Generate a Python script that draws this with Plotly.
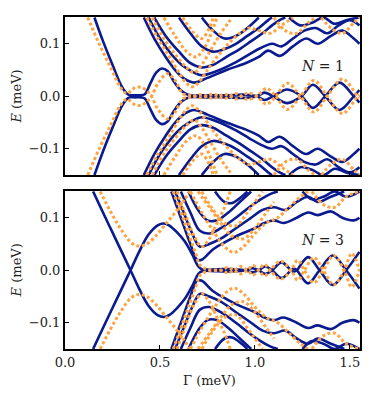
import plotly.graph_objects as go
from plotly.subplots import make_subplots

# ---------------- data (positive-energy branches; spectrum is particle-hole symmetric) ----------
# Top panel, N = 1 : blue solid
n1_blue_zero_G = [0.155, 0.20, 0.25, 0.30, 0.33, 0.345, 0.37, 0.40, 0.42, 0.45, 0.48, 0.51, 0.54, 0.57, 0.60, 0.63, 0.66,
                  0.75, 0.85, 0.95, 1.01, 1.05, 1.095, 1.17, 1.245, 1.305, 1.37, 1.445, 1.52, 1.55]
n1_blue_zero_E = [0.15, 0.105, 0.06, 0.018, 0.004, 0.002, 0.002, 0.002, 0.004, 0.025, 0.045, 0.053, 0.048, 0.03, 0.015, 0.006, 0.002,
                  0.002, 0.002, 0.003, 0.0, -0.007, 0.0, 0.013, 0.0, -0.022, 0.0, 0.026, 0.0, -0.012]
n1_blue_b1_G = [0.415, 0.47, 0.53, 0.58, 0.63, 0.68, 0.75, 0.85, 0.95, 1.02, 1.07, 1.13, 1.20, 1.27, 1.33, 1.40, 1.46, 1.52, 1.55]
n1_blue_b1_E = [0.15, 0.11, 0.075, 0.05, 0.033, 0.026, 0.035, 0.05, 0.063, 0.075, 0.087, 0.077, 0.095, 0.11, 0.10, 0.115, 0.125, 0.11, 0.10]
n1_blue_b2_G = [0.44, 0.50, 0.56, 0.62, 0.68, 0.72, 0.80, 0.90, 0.97, 1.03, 1.09, 1.14, 1.20, 1.26, 1.32, 1.38, 1.44, 1.50, 1.55]
n1_blue_b2_E = [0.15, 0.11, 0.08, 0.058, 0.045, 0.04, 0.048, 0.065, 0.08, 0.092, 0.10, 0.095, 0.11, 0.125, 0.13, 0.12, 0.135, 0.145, 0.135]
n1_blue_b3_G = [0.47, 0.53, 0.60, 0.66, 0.72, 0.78, 0.85, 0.92, 0.98, 1.04, 1.09, 1.13, 1.16]
n1_blue_b3_E = [0.15, 0.115, 0.085, 0.063, 0.055, 0.06, 0.075, 0.09, 0.105, 0.12, 0.135, 0.145, 0.15]
n1_blue_b4_G = [0.60, 0.66, 0.72, 0.78, 0.84, 0.90, 0.96, 1.02, 1.07, 1.09]
n1_blue_b4_E = [0.15, 0.12, 0.095, 0.085, 0.09, 0.10, 0.115, 0.13, 0.145, 0.15]
n1_blue_b5_G = [0.72, 0.78, 0.84, 0.90, 0.96, 1.02]
n1_blue_b5_E = [0.15, 0.125, 0.11, 0.115, 0.13, 0.15]
n1_blue_b6_G = [1.18, 1.24, 1.30, 1.36, 1.42, 1.48, 1.55]
n1_blue_b6_E = [0.15, 0.135, 0.14, 0.15, 0.138, 0.145, 0.15]

# Top panel, N = 1 : orange dotted
n1_orange_zero_G = [0.12, 0.18, 0.24, 0.29, 0.32, 0.335, 0.35, 0.375, 0.40, 0.43, 0.455, 0.49, 0.54, 0.58, 0.62, 0.66,
                    0.72, 0.78, 0.84, 0.90, 0.96, 1.01, 1.06, 1.11, 1.17, 1.24, 1.31, 1.38, 1.46, 1.54, 1.55]
n1_orange_zero_E = [0.15, 0.10, 0.055, 0.018, 0.006, 0.006, 0.012, 0.017, 0.017, 0.011, 0.0, -0.025, -0.043, -0.03, -0.005, -0.002,
                    0.003, -0.004, 0.004, -0.005, 0.006, 0.0, -0.015, 0.0, 0.025, 0.0, -0.03, 0.0, 0.033, 0.0, -0.003]
n1_orange_b1_G = [0.43, 0.49, 0.55, 0.60, 0.64, 0.67, 0.70, 0.75, 0.80, 0.86, 0.92, 0.97, 1.02, 1.08, 1.14, 1.20]
n1_orange_b1_E = [0.15, 0.11, 0.075, 0.045, 0.025, 0.018, 0.025, 0.05, 0.075, 0.10, 0.12, 0.13, 0.125, 0.12, 0.135, 0.15]
n1_orange_b2_G = [0.46, 0.52, 0.58, 0.64, 0.68, 0.72, 0.77, 0.82, 0.86, 0.88]
n1_orange_b2_E = [0.15, 0.11, 0.08, 0.055, 0.045, 0.06, 0.09, 0.12, 0.14, 0.15]
n1_orange_b3_G = [0.52, 0.58, 0.64, 0.69, 0.73, 0.77, 0.80]
n1_orange_b3_E = [0.15, 0.115, 0.085, 0.075, 0.09, 0.12, 0.15]
n1_orange_b4_G = [0.62, 0.68, 0.72, 0.76, 0.78]
n1_orange_b4_E = [0.15, 0.12, 0.11, 0.13, 0.15]
n1_orange_b5_G = [1.10, 1.16, 1.22, 1.28, 1.32]
n1_orange_b5_E = [0.15, 0.125, 0.12, 0.14, 0.15]
n1_orange_b6_G = [1.35, 1.40, 1.46, 1.52, 1.55]
n1_orange_b6_E = [0.15, 0.13, 0.12, 0.14, 0.15]

# Bottom panel, N = 3 : blue solid
n3_blue_zero_G = [0.148, 0.20, 0.25, 0.30, 0.345, 0.39, 0.44, 0.49, 0.52, 0.55, 0.59, 0.63, 0.67, 0.70, 0.72, 0.80, 0.90,
                  0.95, 0.985, 1.02, 1.055, 1.09, 1.14, 1.19, 1.205, 1.22, 1.28, 1.34, 1.41, 1.48, 1.55]
n3_blue_zero_E = [0.15, 0.11, 0.072, 0.034, 0.0, -0.035, -0.068, -0.086, -0.089, -0.085, -0.072, -0.055, -0.03, -0.008, -0.002, -0.002, -0.002,
                  0.0, 0.004, 0.0, -0.007, 0.0, 0.015, 0.0, -0.003, 0.0, 0.025, 0.0, -0.028, 0.0, 0.035]
n3_blue_b1_G = [0.56, 0.61, 0.66, 0.695, 0.72, 0.78, 0.85, 0.92, 1.00, 1.05, 1.10, 1.15, 1.22, 1.28, 1.33, 1.40, 1.46, 1.52, 1.55]
n3_blue_b1_E = [0.15, 0.10, 0.05, 0.02, 0.02, 0.04, 0.055, 0.068, 0.08, 0.09, 0.095, 0.09, 0.10, 0.11, 0.105, 0.112, 0.10, 0.095, 0.10]
n3_blue_b2_G = [0.58, 0.63, 0.67, 0.71, 0.76, 0.82, 0.90, 0.98, 1.04, 1.10, 1.16, 1.22, 1.28, 1.33, 1.40, 1.47]
n3_blue_b2_E = [0.15, 0.105, 0.07, 0.045, 0.05, 0.06, 0.08, 0.10, 0.115, 0.12, 0.115, 0.13, 0.14, 0.13, 0.14, 0.15]
n3_blue_b3_G = [0.61, 0.66, 0.71, 0.76, 0.82, 0.90, 0.97, 1.03, 1.08, 1.12]
n3_blue_b3_E = [0.15, 0.11, 0.075, 0.07, 0.08, 0.10, 0.12, 0.135, 0.145, 0.15]
n3_blue_b4_G = [0.65, 0.70, 0.75, 0.80, 0.86, 0.92, 0.98]
n3_blue_b4_E = [0.15, 0.115, 0.095, 0.095, 0.11, 0.13, 0.15]
n3_blue_b5_G = [0.79, 0.84, 0.88, 0.93, 0.96]
n3_blue_b5_E = [0.15, 0.13, 0.128, 0.14, 0.15]
n3_blue_b6_G = [1.25, 1.30, 1.36, 1.42, 1.48, 1.55]
n3_blue_b6_E = [0.15, 0.135, 0.14, 0.15, 0.14, 0.15]

# Bottom panel, N = 3 : orange dotted
n3_orange_u_G = [0.185, 0.25, 0.30, 0.35, 0.39, 0.43, 0.48, 0.53, 0.58, 0.63, 0.66]
n3_orange_u_E = [0.15, 0.105, 0.075, 0.052, 0.046, 0.05, 0.066, 0.088, 0.11, 0.135, 0.15]
n3_orange_zero_G = [0.57, 0.62, 0.66, 0.69, 0.71, 0.75, 0.82, 0.855, 0.89, 0.925, 0.96, 0.99, 1.02, 1.05, 1.08, 1.135, 1.19,
                    1.225, 1.26, 1.31, 1.36, 1.415, 1.47, 1.51, 1.55]
n3_orange_zero_E = [0.15, 0.10, 0.06, 0.03, 0.01, 0.002, 0.0, 0.005, 0.0, -0.007, 0.0, 0.009, 0.0, -0.011, 0.0, 0.017, 0.0,
                    -0.019, 0.0, 0.024, 0.0, -0.028, 0.0, 0.032, 0.0]
n3_orange_b1_G = [0.59, 0.64, 0.68, 0.72, 0.76, 0.80, 0.84, 0.87]
n3_orange_b1_E = [0.15, 0.10, 0.065, 0.045, 0.06, 0.09, 0.12, 0.15]
n3_orange_b2_G = [0.66, 0.72, 0.78, 0.84, 0.89, 0.94, 1.00, 1.06, 1.12, 1.18, 1.24, 1.28]
n3_orange_b2_E = [0.15, 0.11, 0.075, 0.045, 0.034, 0.045, 0.07, 0.09, 0.10, 0.12, 0.14, 0.15]
n3_orange_b3_G = [0.72, 0.78, 0.84, 0.90, 0.96, 1.00, 1.04]
n3_orange_b3_E = [0.15, 0.115, 0.09, 0.085, 0.11, 0.13, 0.15]
n3_orange_b4_G = [1.30, 1.36, 1.42, 1.48, 1.55]
n3_orange_b4_E = [0.15, 0.125, 0.12, 0.14, 0.15]
n3_orange_b5_G = [0.70, 0.76, 0.82, 0.88, 0.94, 1.00, 1.06, 1.10]
n3_orange_b5_E = [0.15, 0.12, 0.09, 0.065, 0.06, 0.08, 0.11, 0.13]

N_labels = ["<i>N</i> = 1", "<i>N</i> = 3"]
x_ticks = [0.0, 0.5, 1.0, 1.5]
y_ticks = [-0.1, 0.0, 0.1]

BLUE = "#0a1a8f"
ORANGE = "#ffa340"

panels = [
    ([(n1_blue_zero_G, n1_blue_zero_E), (n1_blue_b1_G, n1_blue_b1_E), (n1_blue_b2_G, n1_blue_b2_E),
      (n1_blue_b3_G, n1_blue_b3_E), (n1_blue_b4_G, n1_blue_b4_E), (n1_blue_b5_G, n1_blue_b5_E),
      (n1_blue_b6_G, n1_blue_b6_E)],
     [(n1_orange_zero_G, n1_orange_zero_E), (n1_orange_b1_G, n1_orange_b1_E), (n1_orange_b2_G, n1_orange_b2_E),
      (n1_orange_b3_G, n1_orange_b3_E), (n1_orange_b4_G, n1_orange_b4_E), (n1_orange_b5_G, n1_orange_b5_E),
      (n1_orange_b6_G, n1_orange_b6_E)]),
    ([(n3_blue_zero_G, n3_blue_zero_E), (n3_blue_b1_G, n3_blue_b1_E), (n3_blue_b2_G, n3_blue_b2_E),
      (n3_blue_b3_G, n3_blue_b3_E), (n3_blue_b4_G, n3_blue_b4_E), (n3_blue_b5_G, n3_blue_b5_E),
      (n3_blue_b6_G, n3_blue_b6_E)],
     [(n3_orange_u_G, n3_orange_u_E), (n3_orange_zero_G, n3_orange_zero_E), (n3_orange_b1_G, n3_orange_b1_E),
      (n3_orange_b2_G, n3_orange_b2_E), (n3_orange_b3_G, n3_orange_b3_E), (n3_orange_b4_G, n3_orange_b4_E),
      (n3_orange_b5_G, n3_orange_b5_E)]),
]

fig = make_subplots(rows=2, cols=1, shared_xaxes=True, vertical_spacing=16 / 334)

for row, (blues, oranges) in enumerate(panels, start=1):
    for G, E in blues:
        for sgn in (1, -1):
            fig.add_trace(go.Scatter(x=G, y=[sgn * e for e in E], mode="lines",
                                     line=dict(color=BLUE, width=2.6, shape="spline", smoothing=1.0),
                                     showlegend=False, hoverinfo="skip"), row=row, col=1)
    for G, E in oranges:
        for sgn in (1, -1):
            fig.add_trace(go.Scatter(x=G, y=[sgn * e for e in E], mode="lines",
                                     line=dict(color=ORANGE, width=3, dash="3px,2.5px", shape="spline", smoothing=1.0),
                                     showlegend=False, hoverinfo="skip"), row=row, col=1)

FONT = "DejaVu Serif"
axis_common = dict(showline=True, linecolor="black", linewidth=2, mirror=True, ticks="inside",
                   ticklen=4, tickwidth=1, tickcolor="black", showgrid=False, zeroline=False,
                   tickfont=dict(family=FONT, size=13, color="#222"))
for r in (1, 2):
    fig.update_xaxes(range=[0, 1.553], tickvals=x_ticks, tickformat=".1f", row=r, col=1, **axis_common)
    fig.update_yaxes(range=[-0.15, 0.151], tickvals=y_ticks, tickformat=".1f", row=r, col=1, **axis_common)
fig.update_xaxes(showticklabels=False, row=1, col=1)

# the page body has an 8px margin: figure is shrunk and shifted so the plot box lands at (65..360, 15..349)
fig.update_layout(
    width=375, height=385, margin=dict(l=57, r=23, t=7, b=44),
    plot_bgcolor="white", paper_bgcolor="white", showlegend=False,
    font=dict(family=FONT, color="#222"),
)

ann = []
for yc in (0.760, 0.2365):
    ann.append(dict(text="<i>E</i> (meV)", xref="paper", yref="paper", x=-0.163, y=yc, textangle=-90,
                    showarrow=False, font=dict(family=FONT, size=13, color="#222"), xanchor="center", yanchor="middle"))
ann.append(dict(text="Γ (meV)", xref="paper", yref="paper", x=0.4915, y=-0.096, showarrow=False,
                font=dict(family=FONT, size=13, color="#222"), xanchor="center", yanchor="middle"))
ann.append(dict(text=N_labels[0], xref="x", yref="y", x=1.357, y=0.058, showarrow=False,
                font=dict(family=FONT, size=14, color="#222"), xanchor="center", yanchor="middle"))
ann.append(dict(text=N_labels[1], xref="x2", yref="y2", x=1.357, y=0.057, showarrow=False,
                font=dict(family=FONT, size=14, color="#222"), xanchor="center", yanchor="middle"))
fig.update_layout(annotations=ann)

fig.write_html("out.html")
